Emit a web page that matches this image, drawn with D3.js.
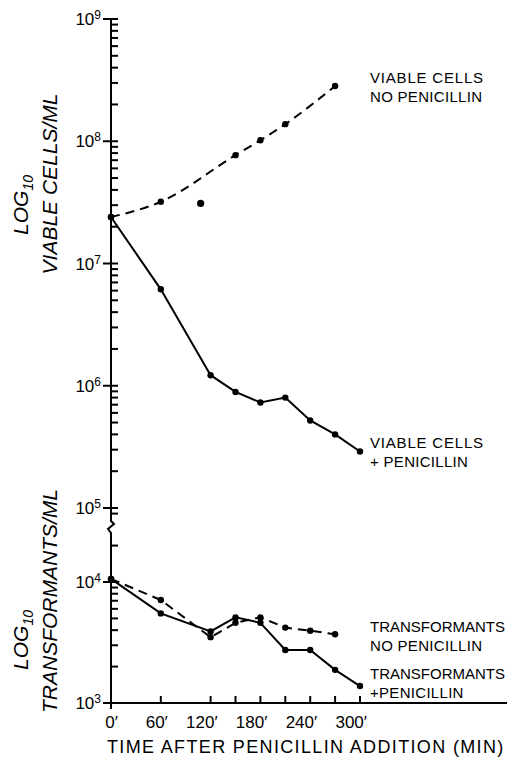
<!DOCTYPE html>
<html>
<head>
<meta charset="utf-8">
<script src="https://cdn.jsdelivr.net/npm/d3@7"></script>
<style>
body { margin: 0; background: #fff; }
text { font-family: "Liberation Sans", Arial, sans-serif; fill: #000; }
</style>
</head>
<body>
<div id="vis"></div>
<script>
var w = 507;
var h = 757;

// data
var viableNoPenT = [0, 60, 150, 180, 210, 270];
var viableNoPen = [2.4e7, 3.2e7, 7.7e7, 1.02e8, 1.38e8, 2.83e8];
var strayT = [108];
var stray = [3.1e7];
var viablePenT = [0, 60, 120, 150, 180, 210, 240, 270, 300];
var viablePen = [2.4e7, 6.15e6, 1.22e6, 8.9e5, 7.3e5, 8.0e5, 5.2e5, 4.0e5, 2.9e5];
var transNoPenT = [0, 60, 120, 150, 180, 210, 240, 270];
var transNoPen = [1.06e4, 7.1e3, 3.5e3, 4.6e3, 5.1e3, 4.2e3, 3.96e3, 3.7e3];
var transPenT = [0, 60, 120, 150, 180, 210, 240, 270, 300];
var transPen = [1.06e4, 5.5e3, 3.9e3, 5.1e3, 4.6e3, 2.74e3, 2.74e3, 1.88e3, 1.38e3];

var xLabels = [0, 60, 120, 180, 240, 300];
var xTicks = [60, 120, 150, 180, 210, 240, 270, 300];
var topMajor = [1e5, 1e6, 1e7, 1e8, 1e9];
var botMajor = [1e3, 1e4];

var svg = d3.select("#vis")
    .append("svg")
    .attr("width", w)
    .attr("height", h);

var x = d3.scaleLinear().domain([0, 300]).range([111, 360]);
var yTop = d3.scaleLog().domain([1e5, 1e9]).range([508, 19]);
var yBot = d3.scaleLog().domain([1e3, 1e4]).range([703, 582]);

// minor ticks
function minorTicks(lo, hi) {
	var out = [];
	for (var e = lo; e < hi; e++) {
		for (var m = 2; m <= 9; m++) out.push(m * Math.pow(10, e));
	}
	return out;
}
var topMinor = minorTicks(5, 9).concat([9e4]);
var botMinor = minorTicks(3, 4).concat([2e4]);

function yTicks(scale, vals, x1, x2) {
	svg.append("g").selectAll("line")
		.data(vals)
		.enter()
		.append("line")
		.attr("x1", x1)
		.attr("x2", x2)
		.attr("y1", function(d) { return scale(d); })
		.attr("y2", function(d) { return scale(d); })
		.attr("stroke", "black")
		.attr("stroke-width", 2);
}
yTicks(yTop, topMinor, 111, 118);
yTicks(yTop, topMajor, 103, 118);
yTicks(yBot, botMinor, 111, 118);
yTicks(yBot, [1e4], 103, 118);
yTicks(yBot, [1e3], 103, 111);

// y axis line with break
svg.append("path")
	.attr("d", "M111,18 L111,521 L114,524 L108,529 L111,533 L111,709")
	.attr("fill", "none")
	.attr("stroke", "black")
	.attr("stroke-width", 2);

// x axis
svg.append("line")
	.attr("x1", 104).attr("x2", w)
	.attr("y1", yBot(1e3)).attr("y2", yBot(1e3))
	.attr("stroke", "black").attr("stroke-width", 2);

svg.append("g").selectAll("line")
	.data(xTicks)
	.enter()
	.append("line")
	.attr("x1", function(d) { return x(d); })
	.attr("x2", function(d) { return x(d); })
	.attr("y1", yBot(1e3))
	.attr("y2", yBot(1e3) - 7)
	.attr("stroke", "black")
	.attr("stroke-width", 2);

// y tick labels
function yLabel(scale, v) {
	var t = svg.append("text")
		.attr("x", 101)
		.attr("y", scale(v) + 6)
		.attr("text-anchor", "end")
		.style("font-size", "17px");
	t.append("tspan").text("10");
	t.append("tspan").text(Math.round(Math.log10(v)))
		.attr("dy", -6)
		.style("font-size", "12px");
}
topMajor.forEach(function(v) { yLabel(yTop, v); });
botMajor.forEach(function(v) { yLabel(yBot, v); });

// x tick labels
svg.selectAll(".xlab")
	.data(xLabels)
	.enter()
	.append("text")
	.attr("class", "xlab")
	.attr("x", function(d) { return x(d) + 7; })
	.attr("y", 728)
	.attr("text-anchor", "end")
	.style("font-size", "17px")
	.text(function(d) { return d + "\u2032"; });

svg.append("text")
	.attr("x", 107)
	.attr("y", 753)
	.style("font-size", "18px")
	.style("letter-spacing", "1.35px")
	.text("TIME AFTER PENICILLIN ADDITION (MIN)");

// rotated axis titles
function yTitle(cx, cy, txt) {
	svg.append("text")
		.attr("transform", "translate(" + cx + "," + cy + ") rotate(-90)")
		.attr("text-anchor", "middle")
		.style("font-size", "21px")
		.style("font-style", "italic")
		.text(txt);
}
function logTitle(cx, cy) {
	var t = svg.append("text")
		.attr("transform", "translate(" + cx + "," + cy + ") rotate(-90)")
		.attr("text-anchor", "middle")
		.style("font-size", "21px")
		.style("font-style", "italic");
	t.append("tspan").text("LOG");
	t.append("tspan").text("10").attr("dy", 5).style("font-size", "14px");
}
logTitle(28, 205);
yTitle(57, 184, "VIABLE CELLS/ML");
logTitle(28, 640);
yTitle(57, 601, "TRANSFORMANTS/ML");

// lines
function series(ts, vs) {
	return ts.map(function(t, i) { return {t: t, v: vs[i]}; });
}
function drawSeries(data, scale, dashed, curve) {
	var line = d3.line()
		.x(function(d) { return x(d.t); })
		.y(function(d) { return scale(d.v); })
		.curve(curve || d3.curveLinear);
	svg.append("path")
		.datum(data)
		.attr("d", line)
		.attr("fill", "none")
		.attr("stroke", "black")
		.attr("stroke-width", 2)
		.attr("stroke-dasharray", dashed ? "9,6" : null);
	svg.append("g").selectAll("circle")
		.data(data)
		.enter()
		.append("circle")
		.attr("cx", function(d) { return x(d.t); })
		.attr("cy", function(d) { return scale(d.v); })
		.attr("r", 3.2)
		.attr("fill", "black");
}
drawSeries(series(viableNoPenT, viableNoPen), yTop, true, d3.curveMonotoneX);
drawSeries(series(viablePenT, viablePen), yTop, false);
drawSeries(series(transNoPenT, transNoPen), yBot, true);
drawSeries(series(transPenT, transPen), yBot, false);

svg.selectAll(".stray")
	.data(series(strayT, stray))
	.enter()
	.append("circle")
	.attr("class", "stray")
	.attr("cx", function(d) { return x(d.t); })
	.attr("cy", function(d) { return yTop(d.v); })
	.attr("r", 3.6)
	.attr("fill", "black");

// series labels
function label(y1, l1, l2) {
	var g = svg.append("g").style("font-size", "15px");
	g.append("text").attr("x", 370).attr("y", y1)
		.style("letter-spacing", l1.length > 12 ? "0px" : "0.8px").text(l1);
	g.append("text").attr("x", 370).attr("y", y1 + 19)
		.style("letter-spacing", "0.3px").text(l2);
}
label(83, "VIABLE CELLS", "NO PENICILLIN");
label(448, "VIABLE CELLS", "+ PENICILLIN");
label(632, "TRANSFORMANTS", "NO PENICILLIN");
label(679, "TRANSFORMANTS", "+PENICILLIN");
</script>
</body>
</html>
